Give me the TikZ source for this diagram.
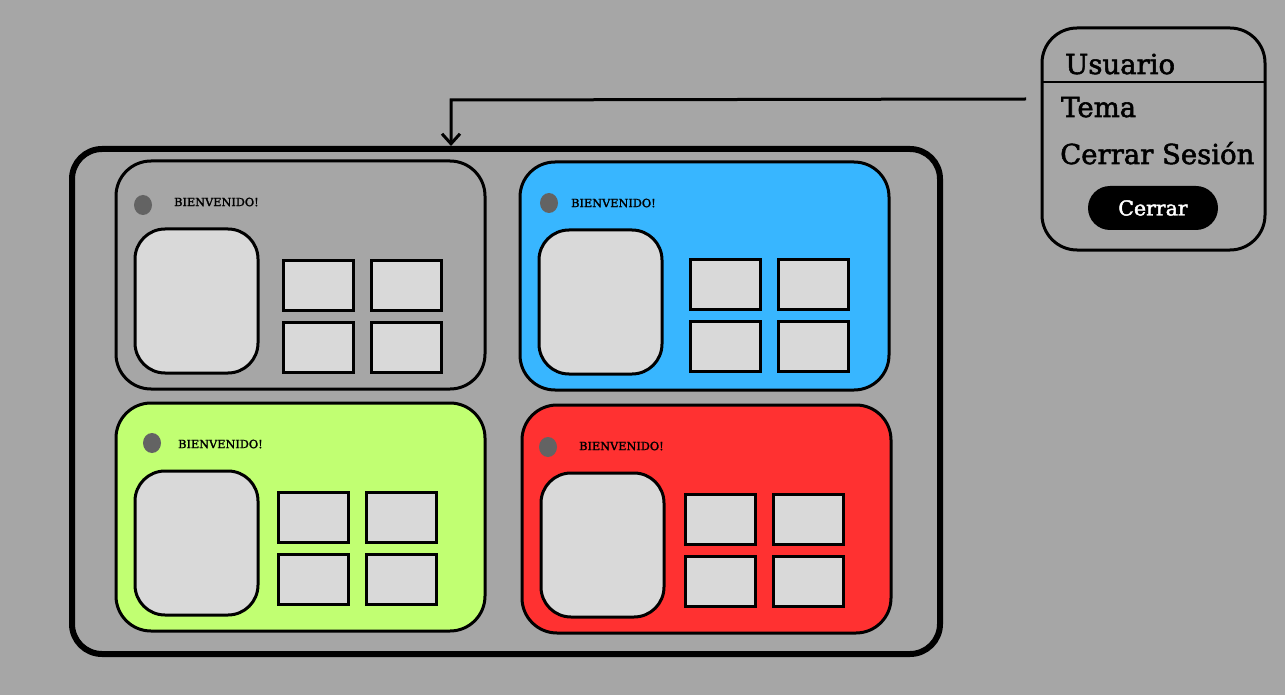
\documentclass[tikz,border=0pt]{standalone}
\usepackage{fontspec}
\setmainfont{DejaVu Serif}
\newfontfamily\slabfont{DejaVu Serif}[FakeBold=2]
\usetikzlibrary{arrows.meta,shapes.geometric}
\definecolor{bggray}{HTML}{A6A6A6}
\definecolor{tilegray}{HTML}{D9D9D9}
\definecolor{dotgray}{HTML}{636363}
\definecolor{skyblue}{HTML}{38B6FF}
\definecolor{limegreen}{HTML}{C1FF72}
\definecolor{redpanel}{HTML}{FF3131}
\begin{document}
\begin{tikzpicture}[x=1pt,y=-1pt,
    panel/.style={draw,line width=3pt,rounded corners=35pt,minimum width=369pt,minimum height=228pt,anchor=north west,outer sep=0pt},
    photo/.style={draw,line width=3pt,fill=tilegray,rounded corners=30pt,minimum width=123pt,minimum height=144pt,anchor=north west,outer sep=0pt},
    tile/.style={draw,line width=3pt,fill=tilegray,minimum width=70pt,minimum height=50pt,anchor=north west,outer sep=0pt},
    dot/.style={ellipse,fill=dotgray,minimum width=18pt,minimum height=20pt,inner sep=0pt},
    hello/.style={font=\slabfont\fontsize{11.3}{13}\selectfont,anchor=west,inner sep=0pt},
    menuitem/.style={font=\slabfont\fontsize{27.5}{32}\selectfont,anchor=base west,inner sep=0pt}]
    \fill[bggray] (0,0) rectangle (1285,695);
    \useasboundingbox (0,0) rectangle (1285,695);
    %
    \node[draw,line width=6pt,rounded corners=30pt,minimum width=868pt,minimum height=505pt,anchor=north west] (frame) at (69,146) {};
    %
    \foreach \px/\py/\col/\n/\dx/\dy/\hx/\tx/\ty in {116/161/bggray/a/27/44/58/167/99, 520/162/skyblue/b/29/41/51/170/97,
        116/403/limegreen/c/36/40/62/162/89, 522/405/redpanel/d/26/42/57/163/89} {
      \node[panel,fill=\col] (panel\n) at (\px,\py) {};
      \node[dot] (dot\n) at ([shift={(\dx,\dy)}]panel\n.north west) {};
      \node[hello] (hello\n) at ([shift={(\hx,41)}]panel\n.north west) {BIENVENIDO!};
      \node[photo] (photo\n) at ([shift={(19,68)}]panel\n.north west) {};
      \node[tile] (tile\n1) at ([shift={(\tx,\ty)}]panel\n.north west) {};
      \node[tile] (tile\n2) at ([shift={(\tx+88,\ty)}]panel\n.north west) {};
      \node[tile] (tile\n3) at ([shift={(\tx,\ty+62)}]panel\n.north west) {};
      \node[tile] (tile\n4) at ([shift={(\tx+88,\ty+62)}]panel\n.north west) {};
    }
    %
    \node[draw,line width=3pt,rounded corners=35pt,minimum width=223pt,minimum height=222pt,anchor=north west,outer sep=0pt] (menu) at (1042,28) {};
    \draw[line width=2.5pt] (menu.west |- 0,82) -- (menu.east |- 0,82);
    \node[menuitem] (usuario) at (1065,74) {Usuario};
    \node[menuitem] (tema) at (1061,117) {Tema};
    \node[menuitem] (sesion) at (1060,164) {Cerrar Sesión};
    \node[fill=black,rounded corners=22pt,minimum width=130pt,minimum height=44pt,text=white,font=\slabfont\fontsize{20.5}{24}\selectfont] (cerrar) at (1153,208) {Cerrar};
    %
    \coordinate (menuleft) at (1026,99);
    \coordinate (bend) at (451,100);
    \draw[line width=3pt,-{Straight Barb[length=10pt,width=18pt]}] (menuleft) -- (bend) -- (bend |- frame.north);
  \end{tikzpicture}
\end{document}
